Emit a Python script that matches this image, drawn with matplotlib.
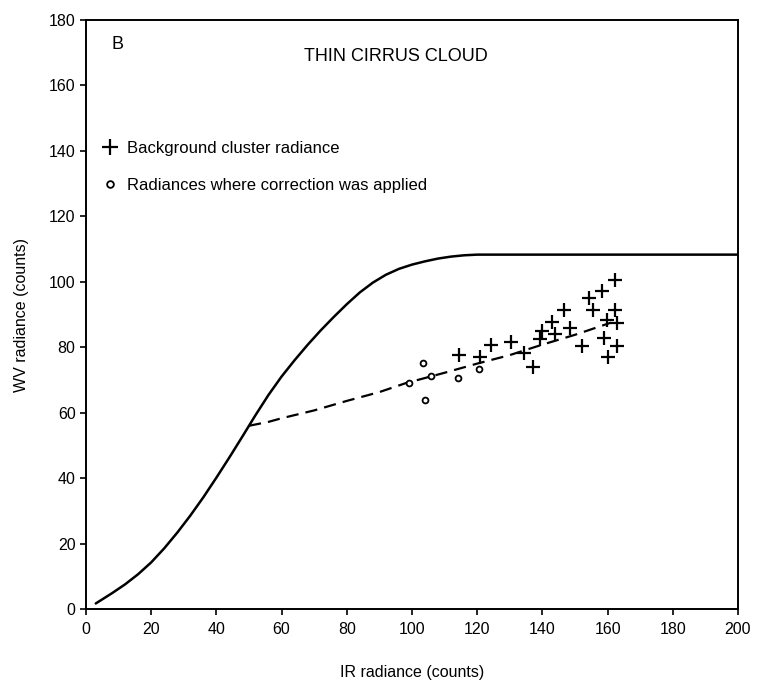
import matplotlib
matplotlib.use("Agg")
import matplotlib.pyplot as plt

plt.rcParams['font.family'] = ['Liberation Sans', 'DejaVu Sans']

# Saturation curve (IR vs WV radiance), read at sample points
curve_ir = [3, 8, 12, 16, 20, 24, 28, 32, 36, 40, 44, 48, 52, 56, 60, 64, 68,
            72, 76, 80, 84, 88, 92, 96, 100, 104, 108, 112, 116, 120, 200]
curve_wv = [1.7, 4.85, 7.55, 10.65, 14.25, 18.55, 23.35, 28.55, 34.15, 40.15,
            46.35, 52.75, 59.25, 65.45, 71.05, 76.05, 80.75, 85.15, 89.25,
            93.15, 96.75, 99.75, 102.15, 103.95, 105.25, 106.25, 107.1, 107.7,
            108.1, 108.3, 108.3]

# Fitted background trend (dashed)
trend_ir = [50.0, 56, 60, 70, 80, 90, 98, 110, 120, 130, 140, 150, 161]
trend_wv = [56.0, 57.2, 58.3, 60.7, 63.6, 66.3, 69.0, 72.2, 75.0, 77.6, 80.8, 83.8, 87.5]

# Background cluster radiances
bg_ir = [114.4, 120.8, 124.3, 130.4, 134.4, 137.2, 139.3, 140.0, 142.8, 144.0,
         146.7, 148.6, 152.3, 154.2, 155.6, 158.2, 162.3, 162.3, 159.7, 162.9,
         158.8, 163.0, 160.2]
bg_wv = [77.7, 77.0, 80.7, 81.6, 78.3, 73.9, 82.6, 85.1, 87.8, 84.0,
         91.4, 86.0, 80.3, 95.0, 91.4, 97.3, 100.7, 91.5, 88.2, 87.5,
         82.8, 80.4, 76.9]

# Radiances where the correction was applied
corr_ir = [99.0, 103.3, 104.0, 105.8, 114.0, 120.5]
corr_wv = [69.2, 75.1, 63.8, 71.3, 70.7, 73.5]

x_ticks = list(range(0, 201, 20))
y_ticks = list(range(0, 181, 20))

fig = plt.figure(figsize=(7.63, 6.85), dpi=100)
ax = fig.add_axes([0.1127, 0.1109, 0.8545, 0.8599])

ax.plot(curve_ir, curve_wv, color='black', lw=1.8, solid_joinstyle='round',
        solid_capstyle='round')
ax.plot(trend_ir, trend_wv, color='black', lw=1.6, linestyle=(0, (5.5, 3.2)))
ax.plot(bg_ir, bg_wv, linestyle='none', marker='+', ms=9.5, mew=1.6,
        color='black', label='Background cluster radiance')
ax.plot(corr_ir, corr_wv, linestyle='none', marker='o', ms=4.2, mew=1.3,
        mfc='white', mec='black', label='Radiances where correction was applied')

ax.set_xlim(0, 200)
ax.set_ylim(0, 180)
ax.set_xticks(x_ticks)
ax.set_yticks(y_ticks)
ax.tick_params(axis='both', direction='out', length=4.5, width=1.2,
               labelsize=11.5, colors='black')
ax.tick_params(axis='x', pad=5)
ax.tick_params(axis='y', pad=3)
for sp in ax.spines.values():
    sp.set_linewidth(1.4)

ax.set_xlabel('IR radiance (counts)', fontsize=11.5, labelpad=20)
ax.set_ylabel('WV radiance (counts)', fontsize=11.5, labelpad=14)

ax.text(9.8, 172.5, 'B', fontsize=13, ha='center', va='center')
ax.text(95, 168.8, 'THIN CIRRUS CLOUD', fontsize=13, ha='center', va='center')

ax.legend(loc='upper left', bbox_to_anchor=(0.006, 0.815), frameon=False,
          fontsize=12, handlelength=1.0, handletextpad=0.55, labelspacing=1.35,
          borderaxespad=0.3, markerscale=1.15)

fig.savefig('out.png', dpi=100)
